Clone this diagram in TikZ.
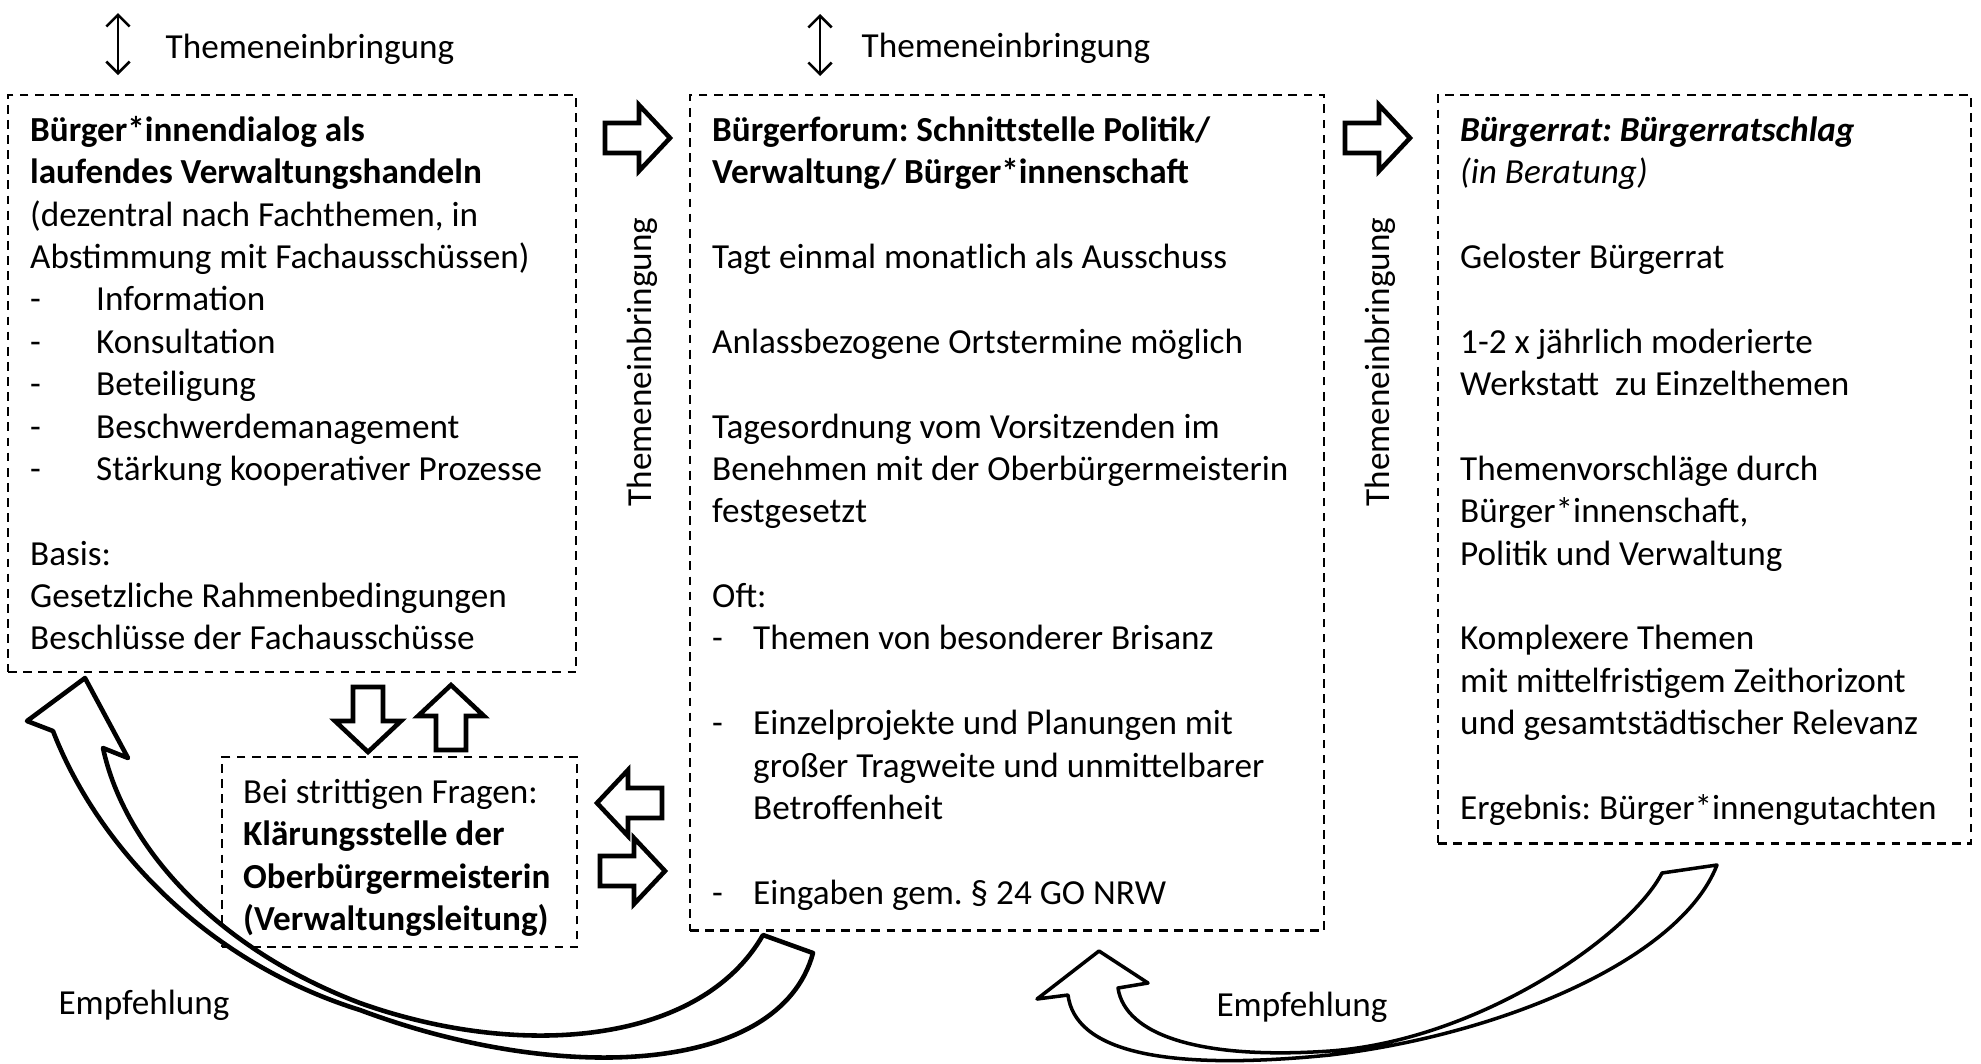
\documentclass[tikz,border=0pt]{standalone}
\usepackage{fontspec}
\setmainfont{Carlito}
\usetikzlibrary{arrows.meta, positioning}
\frenchspacing

\begin{document}
\begin{tikzpicture}[x=0.01cm, y=-0.01cm,
  box/.style={draw, dash pattern=on 2.5pt off 1.8pt, line width=0.6pt, inner sep=0, outer sep=0, anchor=north west},
  txt/.style={align=left, inner sep=0, anchor=north west, font=\fontsize{10}{12.05}\selectfont},
  lbl/.style={inner sep=0, font=\fontsize{10}{12}\selectfont},
  both/.style={line width=0.75pt, {Straight Barb[length=3.3pt,width=6.6pt]}-{Straight Barb[length=3.3pt,width=6.6pt]}},
  curvearr/.style={draw, line width=1.3pt, line join=round, fill=white},
  blockarr/.pic={\draw[line width=1.3pt, fill=white] (0,-15) -- (34,-15) -- (34,-33) -- (65,0) -- (34,33) -- (34,15) -- (0,15) -- cycle;}
]
\useasboundingbox (0,0) rectangle (1981,1063);

% boxes
\node[box, minimum width=5.68cm, minimum height=5.77cm] (dialog) at (8,95) {};
\node[box, minimum width=6.34cm, minimum height=8.35cm] (forum) at (690,95) {};
\node[box, minimum width=5.33cm, minimum height=7.48cm] (rat) at (1438,95) {};
\node[box, minimum width=3.55cm, minimum height=1.90cm] (klaer) at (222,757) {};

% texts
\node[txt] (dialogtxt) at ([shift={(0.215cm,-0.16cm)}]dialog.north west) {\strut\textbf{Bürger*innendialog als}\\
\textbf{laufendes Verwaltungshandeln}\\
(dezentral nach Fachthemen, in\\
Abstimmung mit Fachausschüssen)\\
\makebox[0.66cm][l]{-}Information\\
\makebox[0.66cm][l]{-}Konsultation\\
\makebox[0.66cm][l]{-}Beteiligung\\
\makebox[0.66cm][l]{-}Beschwerdemanagement\\
\makebox[0.66cm][l]{-}Stärkung kooperativer Prozesse\\[12.05pt]
Basis:\\
Gesetzliche Rahmenbedingungen\\
Beschlüsse der Fachausschüsse};

\node[txt] (forumtxt) at ([shift={(0.215cm,-0.16cm)}]forum.north west) {\strut\textbf{Bürgerforum: Schnittstelle Politik/}\\
\textbf{Verwaltung/ Bürger*innenschaft}\\[12.05pt]
Tagt einmal monatlich als Ausschuss\\[12.05pt]
Anlassbezogene Ortstermine möglich\\[12.05pt]
Tagesordnung vom Vorsitzenden im\\
Benehmen mit der Oberbürgermeisterin\\
festgesetzt\\[12.05pt]
Oft:\\
\makebox[0.41cm][l]{-}Themen von besonderer Brisanz\\[12.05pt]
\makebox[0.41cm][l]{-}Einzelprojekte und Planungen mit\\
\makebox[0.41cm][l]{}großer Tragweite und unmittelbarer\\
\makebox[0.41cm][l]{}Betroffenheit\\[12.05pt]
\makebox[0.41cm][l]{-}Eingaben gem. \S~24 GO NRW};

\node[txt] (rattxt) at ([shift={(0.215cm,-0.16cm)}]rat.north west) {\strut\textbf{\textit{Bürgerrat: Bürgerratschlag}}\\
\textit{(in Beratung)}\\[12.05pt]
Geloster Bürgerrat\\[12.05pt]
1-2 x jährlich moderierte\\
Werkstatt~ zu Einzelthemen\\[12.05pt]
Themenvorschläge durch\\
Bürger*innenschaft,\\
Politik und Verwaltung\\[12.05pt]
Komplexere Themen\\
mit mittelfristigem Zeithorizont\\
und gesamtstädtischer Relevanz\\[12.05pt]
Ergebnis: Bürger*innengutachten};

\node[txt] (klaertxt) at ([shift={(0.205cm,-0.16cm)}]klaer.north west) {\strut Bei strittigen Fragen:\\
\textbf{Klärungsstelle der}\\
\textbf{Oberbürgermeisterin}\\
\textbf{(Verwaltungsleitung)}};

% Themeneinbringung
\coordinate (in1) at (118,13);
\coordinate (out1) at (118,75);
\draw[both] (in1) -- (out1);
\node[lbl, anchor=west] (thema1) at (165,49) {Themeneinbringung};
\coordinate (in2) at (820,14);
\coordinate (out2) at (820,76);
\draw[both] (in2) -- (out2);
\node[lbl, anchor=west] (thema2) at (861,48) {Themeneinbringung};
\node[lbl, rotate=90] (thema3) at (642,362) {Themeneinbringung};
\node[lbl, rotate=90] (thema4) at (1380,362) {Themeneinbringung};

% block arrows
\pic at (605,138) {blockarr};
\pic at (1345,138) {blockarr};
\pic[rotate=-90] at (368,687) {blockarr};
\pic[rotate=90] at (451,750) {blockarr};
\pic[rotate=180] at (662,803) {blockarr};
\pic at (600,871) {blockarr};

% Empfehlung arrows
\draw[curvearr] (763,935) -- (813,953)
  .. controls (780,1075) and (560,1085) .. (360,1010)
  .. controls (200,960) and (95,840) .. (53,731)
  -- (27,721) -- (85,678) -- (128,758) -- (103,748)
  .. controls (125,850) and (220,950) .. (360,1003)
  .. controls (520,1060) and (700,1045) .. (763,935) -- cycle;
\draw[curvearr, line width=1pt] (1662,873) -- (1717,865)
  .. controls (1680,960) and (1500,1035) .. (1330,1055)
  .. controls (1160,1072) and (1075,1050) .. (1068,995)
  -- (1037,999) -- (1099,951) -- (1148,983) -- (1118,988)
  .. controls (1125,1035) and (1200,1060) .. (1330,1051)
  .. controls (1480,1040) and (1630,935) .. (1662,873) -- cycle;
\node[lbl] (empf1) at (144,1005) {Empfehlung};
\node[lbl] (empf2) at (1302,1007) {Empfehlung};
\end{tikzpicture}
\end{document}
